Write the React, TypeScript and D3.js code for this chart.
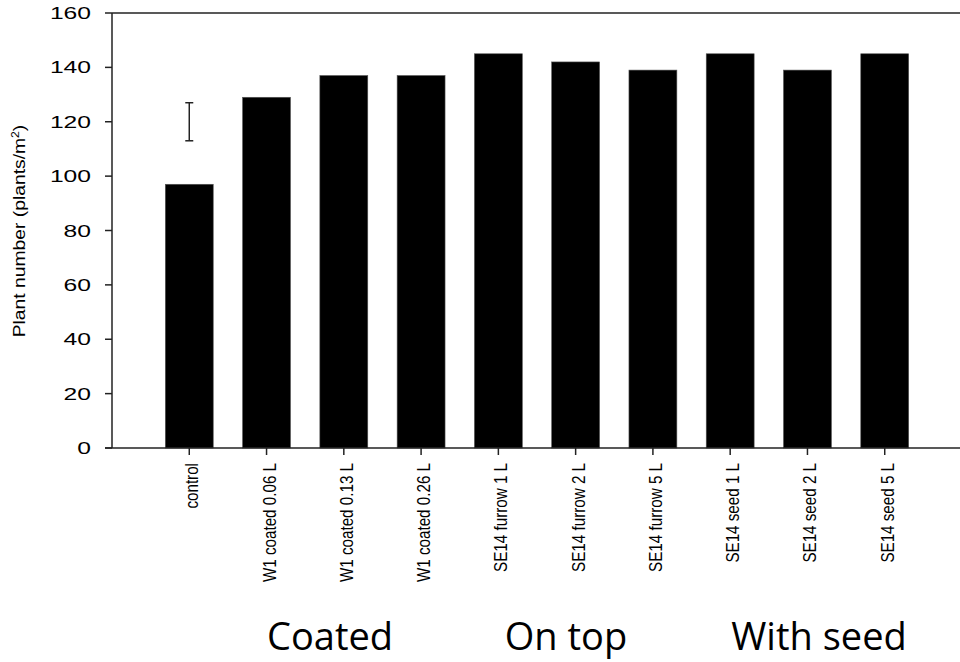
import React from "react";
import * as d3 from "d3";

// Treatments along the x axis
const categories = [
  "control",
  "W1 coated 0.06 L",
  "W1 coated 0.13 L",
  "W1 coated 0.26 L",
  "SE14 furrow 1 L",
  "SE14 furrow 2 L",
  "SE14 furrow 5 L",
  "SE14 seed 1 L",
  "SE14 seed 2 L",
  "SE14 seed 5 L",
];

// Mean plant number (plants/m²) per treatment
const plantNumbers = [97, 129, 137, 137, 145, 142, 139, 145, 139, 145];

// LSD bar drawn over the control column
const lsdLow = 113;
const lsdHigh = 127;

const yTicks = [0, 20, 40, 60, 80, 100, 120, 140, 160];

// Application-method groups written under the axis
const groupNames = ["Coated", "On top", "With seed"];
const groupCenters = [330, 566, 819];

const W = 960;
const H = 662;
const left = 112;
const top = 13;
const bottom = 448;
const right = 962;

export default function App() {
  const x = d3
    .scaleBand<string>()
    .domain(categories)
    .range([left, right])
    .paddingInner(0.38)
    .paddingOuter(0.69);
  const y = d3.scaleLinear().domain([0, 160]).range([bottom, top]);
  const axisColor = "#222";
  const lsdX = (x(categories[0]) ?? 0) + x.bandwidth() / 2;

  return (
    <svg
      width={W}
      height={H}
      style={{ position: "absolute", left: 0, top: 0, background: "#fff" }}
      fontFamily="'Liberation Sans', Arial, sans-serif"
    >
      {/* bars */}
      {categories.map((c, i) => (
        <rect
          key={c}
          x={x(c)}
          y={y(plantNumbers[i])}
          width={x.bandwidth()}
          height={y(0) - y(plantNumbers[i])}
          fill="#000"
          stroke="#555"
          strokeWidth={0.6}
        />
      ))}

      {/* frame: left axis, top line, bottom axis */}
      <line x1={left} x2={left} y1={top} y2={bottom} stroke={axisColor} strokeWidth={1.5} />
      <line x1={left} x2={W} y1={top} y2={top} stroke={axisColor} strokeWidth={1.5} />
      <line x1={left - 7} x2={W} y1={bottom} y2={bottom} stroke={axisColor} strokeWidth={1.5} />

      {/* y ticks and labels (wide numerals) */}
      {yTicks.map((t) => (
        <g key={t} transform={`translate(0,${y(t)})`}>
          <line x1={left - 7} x2={left} stroke={axisColor} strokeWidth={1.5} />
          <g transform="translate(91,0) scale(1.45,1)">
            <text textAnchor="end" dy="0.36em" fontSize={17} fill="#000">
              {t}
            </text>
          </g>
        </g>
      ))}

      {/* x ticks and rotated category labels */}
      {categories.map((c) => {
        const cx = (x(c) ?? 0) + x.bandwidth() / 2;
        return (
          <g key={c}>
            <line x1={cx} x2={cx} y1={bottom} y2={bottom + 7} stroke={axisColor} strokeWidth={1.5} />
            <g transform={`translate(${cx + 9},463) rotate(-90) scale(0.8,1)`}>
              <text textAnchor="end" fontSize={19} fill="#000">
                {c}
              </text>
            </g>
          </g>
        );
      })}

      {/* LSD bar */}
      <g stroke={axisColor} strokeWidth={1.5}>
        <line x1={lsdX} x2={lsdX} y1={y(lsdLow)} y2={y(lsdHigh)} />
        <line x1={lsdX - 4} x2={lsdX + 4} y1={y(lsdLow)} y2={y(lsdLow)} />
        <line x1={lsdX - 4} x2={lsdX + 4} y1={y(lsdHigh)} y2={y(lsdHigh)} />
      </g>

      {/* y axis title */}
      <g transform="translate(25,231) rotate(-90) scale(1.17,1)">
        <text textAnchor="middle" fontSize={16.5} fill="#000">
          Plant number (plants/m
          <tspan fontSize={10.5} dy={-6.5}>2</tspan>
          <tspan dy={6.5}>)</tspan>
        </text>
      </g>

      {/* group captions */}
      {groupNames.map((g, i) => (
        <text
          key={g}
          x={groupCenters[i]}
          y={650}
          textAnchor="middle"
          fontFamily="'Open Sans', Lato, sans-serif"
          fontSize={38}
          fill="#000"
        >
          {g}
        </text>
      ))}
    </svg>
  );
}
